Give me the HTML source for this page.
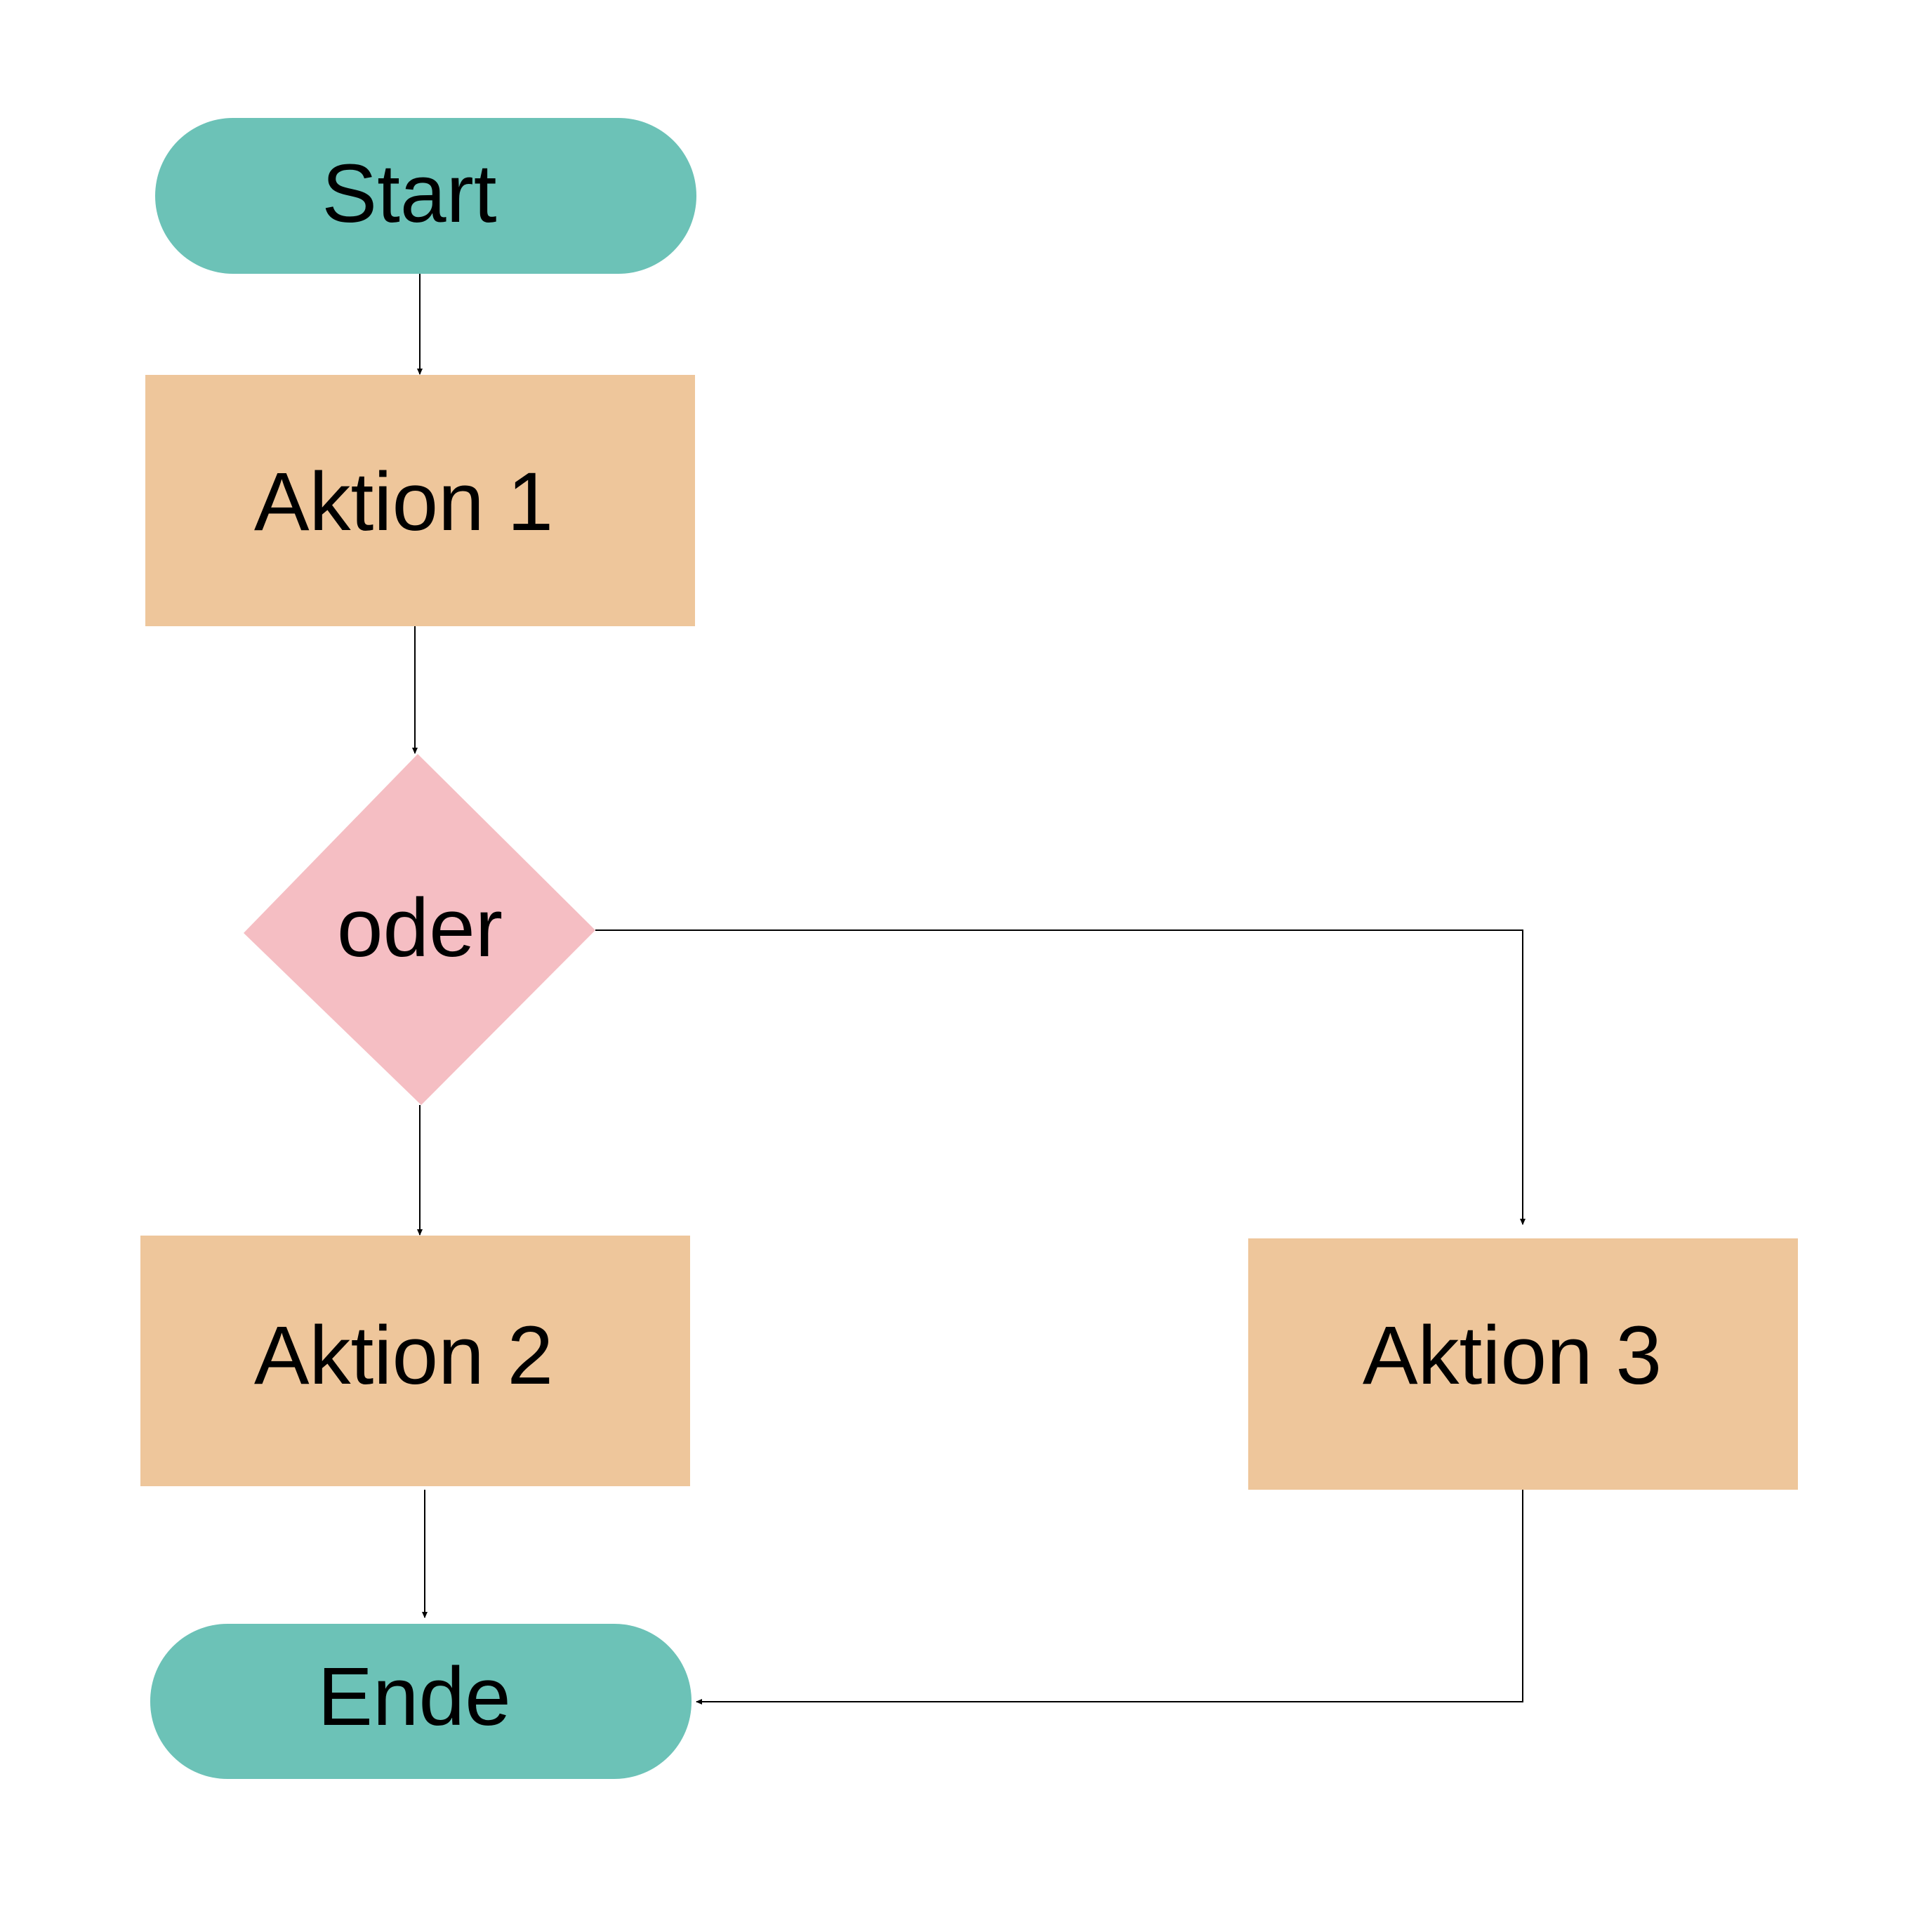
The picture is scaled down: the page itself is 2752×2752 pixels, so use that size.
<!DOCTYPE html>
<html><head><meta charset="utf-8"><style>html,body{margin:0;padding:0;background:#fff}svg{display:block}</style></head>
<body>
<svg width="2752" height="2752" viewBox="0 0 2752 2752" xmlns="http://www.w3.org/2000/svg">
<defs>
<marker id="a" markerWidth="10" markerHeight="10" refX="8" refY="5" orient="auto" markerUnits="userSpaceOnUse">
<path d="M0,1 L9,5 L0,9 z" fill="#000"/></marker>
</defs>
<g fill="#6cc2b7">
<rect x="221" y="168" width="771" height="222" rx="111" ry="111"/>
<rect x="214" y="2313" width="771" height="221" rx="110" ry="110"/>
</g>
<g fill="#eec69b">
<rect x="207" y="534" width="783" height="358"/>
<rect x="200" y="1760" width="783" height="357"/>
<rect x="1778" y="1764" width="783" height="358"/>
</g>
<polygon points="595,1074 848,1325 600,1574 347,1329" fill="#f5bec3"/>
<g stroke="#000" stroke-width="2" fill="none">
<line x1="598" y1="390" x2="598" y2="533" marker-end="url(#a)"/>
<line x1="591" y1="892" x2="591" y2="1073" marker-end="url(#a)"/>
<line x1="598" y1="1574" x2="598" y2="1759" marker-end="url(#a)"/>
<line x1="605" y1="2122" x2="605" y2="2304" marker-end="url(#a)"/>
<polyline points="848,1325 2169,1325 2169,1744" marker-end="url(#a)"/>
<polyline points="2169,2122 2169,2424 992,2424" marker-end="url(#a)"/>
</g>
<g font-family="Liberation Sans, sans-serif" font-size="118" fill="#000" text-anchor="middle">
<text x="583" y="316">Start</text>
<text x="575" y="755">Aktion 1</text>
<text x="598" y="1362">oder</text>
<text x="575" y="1971">Aktion 2</text>
<text x="2154" y="1971">Aktion 3</text>
<text x="590" y="2457">Ende</text>
</g>
</svg>
</body></html>
